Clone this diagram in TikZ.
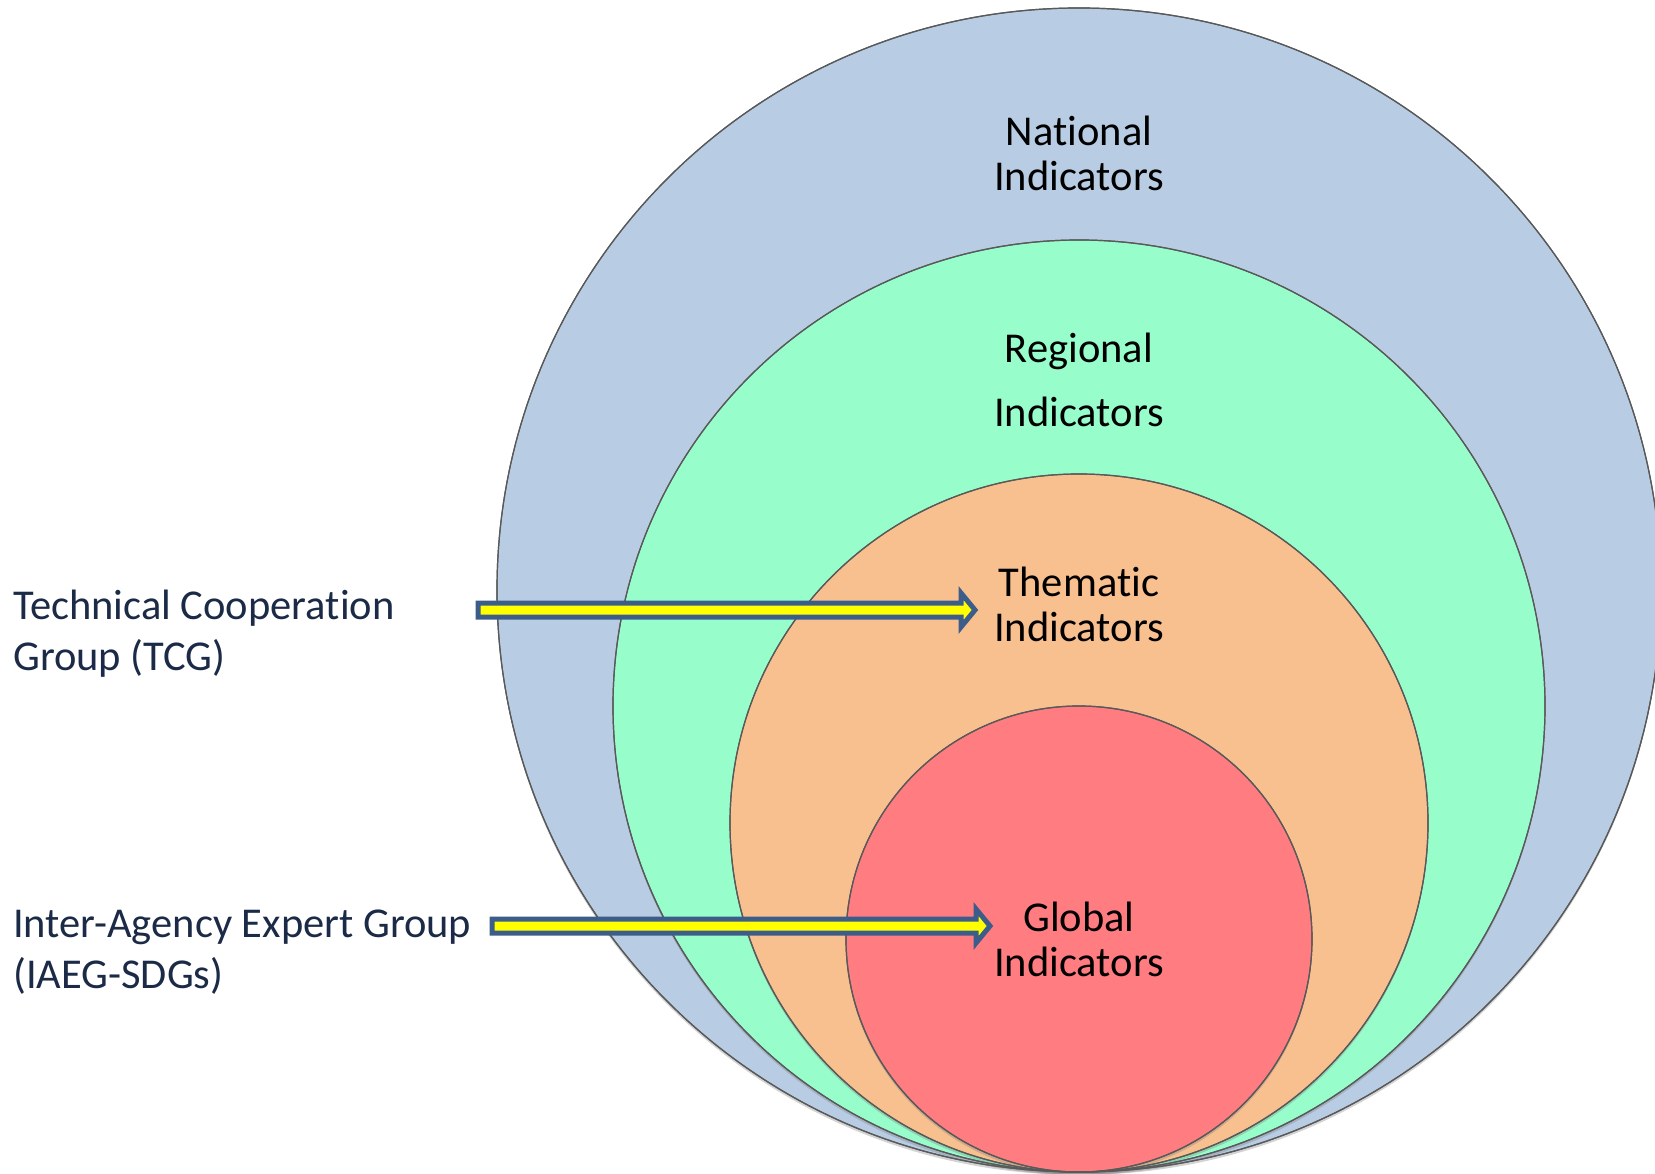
\documentclass[tikz,border=0pt]{standalone}
\usepackage{fontspec}
\setmainfont{Carlito}[Ligatures={NoCommon}]
\usepackage{tikz}
\usetikzlibrary{calc,positioning,shadows}
\definecolor{natblue}{HTML}{B8CCE4}
\definecolor{reggreen}{HTML}{97FECB}
\definecolor{themorange}{HTML}{F8BF8F}
\definecolor{globred}{HTML}{FF7C80}
\definecolor{arrowblue}{HTML}{3C5D89}
\definecolor{arrowyellow}{HTML}{FFFF00}
\definecolor{navytext}{HTML}{1B2A47}
\tikzstyle{level}=[draw=black!65, line width=1.2pt, drop shadow={shadow xshift=0pt, shadow yshift=-3pt, opacity=0.35}]
\tikzstyle{ringlabel}=[inner sep=0pt, align=center, font=\fontsize{42.5}{45}\selectfont]
\tikzstyle{sidelabel}=[inner sep=0pt, anchor=west, align=left, text=navytext, font=\fontsize{42.5}{51}\selectfont]
\tikzstyle{blockarrow}=[draw=arrowblue, fill=arrowyellow, line width=5pt, line join=miter]

\begin{document}
\begin{tikzpicture}[x=1pt, y=-1pt]
\useasboundingbox (0,0) rectangle (1655,1174);

% nested levels, all touching at the bottom
\fill[level, fill=natblue] (1079,590) circle[radius=582];
\fill[level, fill=reggreen] (1079,706) circle[radius=466];
\fill[level, fill=themorange] (1079,823) circle[radius=349];
\fill[level, fill=globred] (1079,939) circle[radius=233];
\draw[draw=black!65, line width=1.2pt] (1079,590) circle[radius=582];
\draw[draw=black!65, line width=1.2pt] (1079,706) circle[radius=466];
\draw[draw=black!65, line width=1.2pt] (1079,823) circle[radius=349];
\draw[draw=black!65, line width=1.2pt] (1079,939) circle[radius=233];

% labels
\node[ringlabel] (national) at (1079,153) {National\\Indicators};
\node[ringlabel, font=\fontsize{42.5}{64}\selectfont] (regional) at (1079,380) {Regional\\Indicators};
\node[ringlabel] (thematic) at (1079,604) {Thematic\\Indicators};
\node[ringlabel] (global) at (1079,939) {Global\\Indicators};

\node[sidelabel] (tcg) at (13,634) {Technical Cooperation\\Group (TCG)};
\node[sidelabel] (iaeg) at (13,952) {Inter-Agency Expert Group\\(IAEG-SDGs)};

% arrows
\coordinate (tcgtail) at (478,610);
\coordinate (tcgtip) at (975,610);
\coordinate (iaegtail) at (492,926);
\coordinate (iaegtip) at (990,926);
\foreach \a/\b in {tcgtail/tcgtip, iaegtail/iaegtip}
    \draw[blockarrow] ($(\a)+(0,-7)$) -- ($(\b)+(-14,-7)$) -- ($(\b)+(-14,-17)$) -- (\b)
        -- ($(\b)+(-14,17)$) -- ($(\b)+(-14,7)$) -- ($(\a)+(0,7)$) -- cycle;

\end{tikzpicture}
\end{document}
